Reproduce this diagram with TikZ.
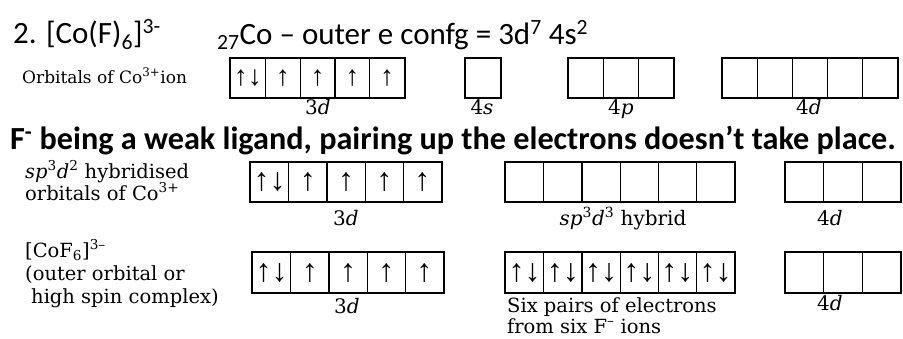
\documentclass[tikz,border=0pt]{standalone}
\usepackage{fontspec}
\setmainfont{DejaVu Serif}
\newfontfamily\calibri{Carlito}
\newfontfamily\arrowfont{Liberation Serif}

\newcommand\emp{}
% one row of orbital boxes: name, left x, top y, cell width, cell height, count, contents
\newcommand\orbrow[7]{%
  \foreach \c [count=\i] in {#7}{
    \node[cell, minimum width=#4pt, minimum height=#5pt, anchor=north west]
      (#1\i) at ({#2+(\i-1)*#4}, #3) {\c};
  }
  \draw[frame] (#11.north west) rectangle (#1#6.south east);
}

\tikzset{
  cell/.style={draw, line width=1.1pt, inner sep=0pt,
    font=\arrowfont\fontsize{32}{32}\selectfont},
  smallcell/.style={cell/.append style={font=\arrowfont\fontsize{28}{28}\selectfont}},
  frame/.style={line width=1.8pt},
  heading/.style={anchor=base west, inner sep=0pt,
    font=\calibri\fontsize{31}{37}\selectfont},
  remark/.style={anchor=base west, inner sep=0pt,
    font=\calibri\bfseries\fontsize{32.2}{36}\selectfont},
  side/.style={anchor=base west, inner sep=0pt,
    font=\fontsize{19.5}{23}\selectfont},
  smallside/.style={side, font=\fontsize{17}{20}\selectfont},
  sublabel/.style={anchor=base, inner sep=0pt,
    font=\fontsize{20}{23}\selectfont},
}

\begin{document}
\begin{tikzpicture}[x=1pt, y=-1pt]
  \useasboundingbox (0,0) rectangle (903,338);
  \fill[white] (0,0) rectangle (903,338);
  \clip (0,0) rectangle (903,338);

  % heading line
  \node[heading] (title) at (13,43) {2. [Co(F)\textsubscript{6}]\textsuperscript{3-}};
  \node[heading] (config) at (217,44) {\textsubscript{27}Co – outer e confg = 3d\textsuperscript{7} 4s\textsuperscript{2}};

  % orbitals of the Co(3+) ion
  \node[smallside] (ion) at (22,83) {Orbitals of Co\textsuperscript{3+}ion};
  \begin{scope}[smallcell]
    \orbrow{ia}{230}{58}{34.8}{39}{5}{↑↓,↑,↑,↑,↑}
  \end{scope}
  \orbrow{ib}{465}{58}{35}{39}{1}{\emp}
  \orbrow{ic}{568}{58}{35}{39}{3}{\emp,\emp,\emp}
  \orbrow{id}{722}{58}{35}{39}{5}{\emp,\emp,\emp,\emp,\emp}
  \node[sublabel] (l3d) at (318,114) {3\textit{d}};
  \node[sublabel] (l4s) at (482,114) {4\textit{s}};
  \node[sublabel] (l4p) at (621,114) {4\textit{p}};
  \node[sublabel] (l4d) at (809,114) {4\textit{d}};

  % remark
  \node[remark] (weak) at (10,149) {F\textsuperscript{-} being a weak ligand, pairing up the electrons doesn’t take place.};

  % hybridised orbitals
  \node[side] (hyb1) at (25,178) {\textit{sp}\textsuperscript{3}\textit{d}\textsuperscript{2} hybridised};
  \node[side] (hyb2) at (25,200) {orbitals of Co\textsuperscript{3+}};
  \orbrow{ha}{250}{162}{38.2}{39}{5}{↑↓,↑,↑,↑,↑}
  \orbrow{hb}{505}{162}{38.2}{39}{6}{\emp,\emp,\emp,\emp,\emp,\emp}
  \orbrow{hc}{785}{162}{38.3}{39}{3}{\emp,\emp,\emp}
  \node[sublabel] (h3d) at (346,225) {3\textit{d}};
  \node[sublabel] (hsp) at (623,225) {\textit{sp}\textsuperscript{3}\textit{d}\textsuperscript{3} hybrid};
  \node[sublabel] (h4d) at (830,225) {4\textit{d}};

  % the complex
  \node[side] (cx1) at (25,257) {[CoF\textsubscript{6}]\textsuperscript{3–}};
  \node[side] (cx2) at (25,280) {(outer orbital or};
  \node[side] (cx3) at (31,303) {high spin complex)};
  \orbrow{ca}{252}{252}{38.2}{40}{5}{↑↓,↑,↑,↑,↑}
  \orbrow{cb}{505}{252}{38.2}{40}{6}{↑↓,↑↓,↑↓,↑↓,↑↓,↑↓}
  \orbrow{cc}{785}{252}{38.3}{40}{3}{\emp,\emp,\emp}
  \node[sublabel] (c3d) at (347,313) {3\textit{d}};
  \node[sublabel] (c4d) at (830,310) {4\textit{d}};
  \node[anchor=north west, inner sep=0pt, align=left,
        font=\fontsize{19.5}{21}\selectfont] (six) at (507,297)
        {Six pairs of electrons\\from six F\textsuperscript{–} ions};
\end{tikzpicture}
\end{document}
